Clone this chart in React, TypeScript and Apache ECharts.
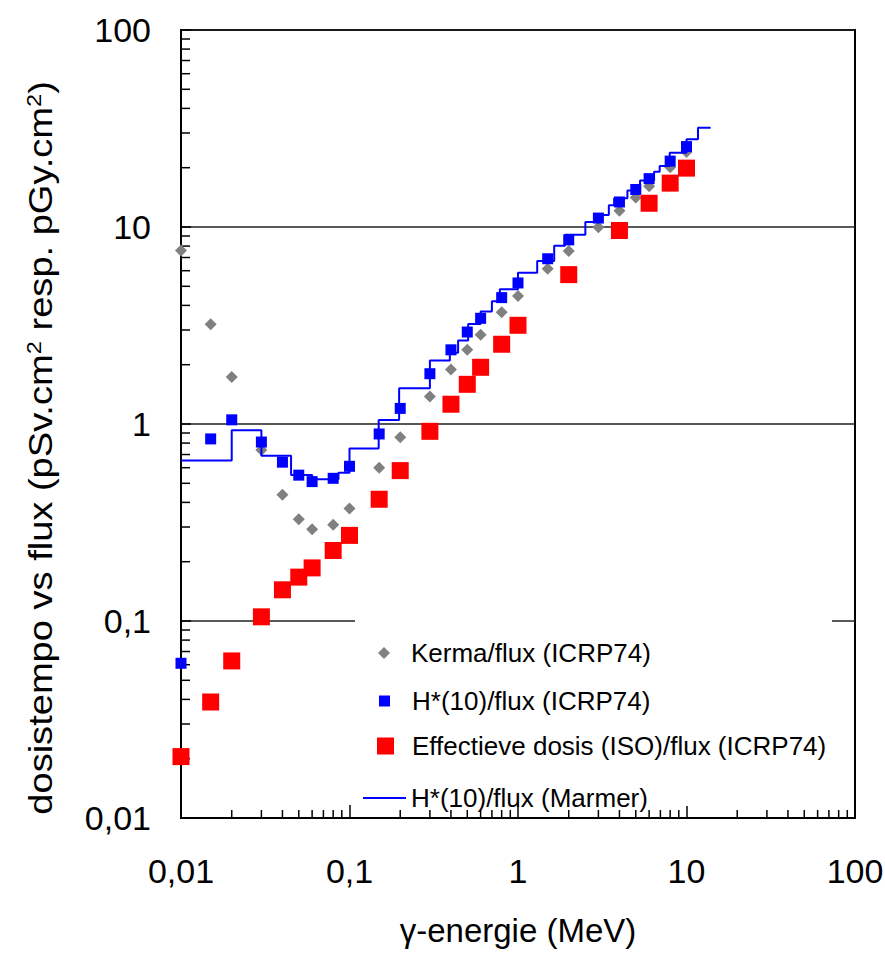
import React, { useEffect, useRef } from "react";
import * as echarts from "echarts";

// ICRP74 energies (MeV)
const energies = [0.01, 0.015, 0.02, 0.03, 0.04, 0.05, 0.06, 0.08, 0.1, 0.15, 0.2, 0.3, 0.4, 0.5, 0.6, 0.8, 1, 1.5, 2, 3, 4, 5, 6, 8, 10];
// Kerma/flux (pGy.cm2)
const kermaValues = [7.6, 3.21, 1.73, 0.739, 0.438, 0.328, 0.292, 0.308, 0.372, 0.6, 0.856, 1.38, 1.89, 2.38, 2.84, 3.69, 4.47, 6.14, 7.55, 9.96, 12.1, 14.1, 16.1, 20.1, 24.0];
// H*(10)/flux (pSv.cm2)
const hstarValues = [0.061, 0.84, 1.05, 0.81, 0.64, 0.55, 0.51, 0.53, 0.61, 0.89, 1.2, 1.8, 2.38, 2.93, 3.44, 4.38, 5.2, 6.9, 8.6, 11.1, 13.4, 15.5, 17.6, 21.6, 25.6];
// Effective dose (ISO)/flux
const effEnergies = [0.01, 0.015, 0.02, 0.03, 0.04, 0.05, 0.06, 0.08, 0.1, 0.15, 0.2, 0.3, 0.4, 0.5, 0.6, 0.8, 1, 2, 4, 6, 8, 10];
const effValues = [0.0205, 0.0388, 0.0627, 0.105, 0.144, 0.167, 0.186, 0.228, 0.272, 0.415, 0.58, 0.918, 1.26, 1.59, 1.94, 2.54, 3.17, 5.73, 9.6, 13.2, 16.7, 19.9];
// H*(10)/flux (Marmer) step line: bin edges and bin values
const marmerEdges = [0.01, 0.02, 0.03, 0.045, 0.06, 0.086, 0.1, 0.149, 0.197, 0.3, 0.394, 0.441, 0.506, 0.6, 0.7, 0.78, 1.0, 1.3, 1.64, 1.9, 2.51, 3.15, 3.46, 3.72, 4.46, 5.3, 6.42, 6.93, 7.95, 10.0, 11.7, 13.9];
const marmerValues = [0.652, 0.93, 0.69, 0.551, 0.524, 0.565, 0.75, 1.047, 1.52, 2.1, 2.3, 2.65, 3.22, 3.72, 4.2, 4.83, 5.86, 6.72, 8.04, 9.14, 10.6, 11.5, 12.9, 14.0, 15.3, 17.2, 19.1, 20.4, 23.8, 27.9, 31.9];

const decades = [0.01, 0.1, 1, 10];
const minorMultipliers = [2, 3, 4, 5, 6, 7, 8, 9];

const seriesNames = [
  "Kerma/flux (ICRP74)",
  "H*(10)/flux (ICRP74)",
  "Effectieve dosis (ISO)/flux (ICRP74)",
  "H*(10)/flux (Marmer)",
];

const FONT = "'Liberation Sans', Arial, Helvetica, sans-serif";

export default function App() {
  const ref = useRef<HTMLDivElement>(null);

  useEffect(() => {
    if (!ref.current) return;
    const chart = echarts.init(ref.current, null, { renderer: "svg" });

    const minorTicks = decades.flatMap((d) => minorMultipliers.map((m) => +(d * m).toPrecision(3)));
    const fmt = (v: number) => String(+v.toPrecision(3)).replace(".", ",");
    const marmerData = marmerEdges.map((e, i) => [e, marmerValues[Math.min(i, marmerValues.length - 1)]]);

    const legendText = (padLeft: number) => ({ fontSize: 26, fontFamily: FONT, color: "#000", padding: [0, 0, 0, padLeft] });

    const option: any = {
      animation: false,
      backgroundColor: "#fff",
      grid: {
        left: 181,
        width: 674,
        top: 30,
        height: 788,
        outerBoundsMode: "none",
        containLabel: false,
        show: true,
        borderColor: "#000",
        borderWidth: 2,
        backgroundColor: "transparent",
      },
      xAxis: {
        type: "log",
        logBase: 10,
        min: 0.01,
        max: 100,
        axisLine: { onZero: false, lineStyle: { color: "#000", width: 2 } },
        axisTick: { inside: true, length: 13, lineStyle: { color: "#000", width: 1.5 } },
        axisLabel: { fontSize: 34, fontFamily: FONT, color: "#000", margin: 36, formatter: fmt },
        splitLine: { show: false },
        name: "γ-energie (MeV)",
        nameLocation: "middle",
        nameGap: 96,
        nameTextStyle: { fontSize: 33, fontFamily: FONT, color: "#000" },
      },
      yAxis: {
        type: "log",
        logBase: 10,
        min: 0.01,
        max: 100,
        axisLine: { onZero: false, lineStyle: { color: "#000", width: 2 } },
        axisTick: { inside: true, length: 10, lineStyle: { color: "#000", width: 1.5 } },
        axisLabel: { fontSize: 34, fontFamily: FONT, color: "#000", margin: 30, formatter: fmt },
        splitLine: { show: true, lineStyle: { color: "#222", width: 1.5 } },
      },
      legend: [
        { data: [{ name: seriesNames[0], icon: "diamond" }], left: 378, top: 640, itemWidth: 12, itemHeight: 12, padding: 0, selectedMode: false, textStyle: legendText(16) },
        { data: [{ name: seriesNames[1], icon: "rect" }], left: 379, top: 688, itemWidth: 11, itemHeight: 11, padding: 0, selectedMode: false, textStyle: legendText(17) },
        { data: [{ name: seriesNames[2], icon: "rect" }], left: 377, top: 733, itemWidth: 17, itemHeight: 17, padding: 0, selectedMode: false, textStyle: legendText(13) },
        { data: [{ name: seriesNames[3], icon: "rect" }], left: 363, top: 785, itemWidth: 43, itemHeight: 2, padding: 0, selectedMode: false, textStyle: legendText(0) },
      ],
      graphic: [
        {
          type: "rect",
          z: 1,
          shape: { x: 355, y: 618, width: 477, height: 188 },
          style: { fill: "#fff" },
          silent: true,
        },
        {
          type: "text",
          x: 40,
          y: 448,
          rotation: Math.PI / 2,
          scaleX: 1.12,
          style: {
            text: "dosistempo vs flux (pSv.cm{sup|2} resp. pGy.cm{sup|2})",
            fontSize: 34,
            fontFamily: FONT,
            fill: "#000",
            align: "center",
            verticalAlign: "middle",
            rich: {
              sup: { fontSize: 21, fontFamily: FONT, fill: "#000", verticalAlign: "top" },
            },
          },
        },
      ],
      series: [
        {
          name: "minorX",
          type: "custom",
          silent: true,
          data: minorTicks.map((v) => [v, 0.01]),
          renderItem: (params: any, api: any) => {
            const p = api.coord([api.value(0), api.value(1)]);
            return { type: "line", shape: { x1: p[0], y1: p[1], x2: p[0], y2: p[1] - 8 }, style: { stroke: "#000", lineWidth: 1.5 } };
          },
        },
        {
          name: "minorY",
          type: "custom",
          silent: true,
          data: minorTicks.map((v) => [0.01, v]),
          renderItem: (params: any, api: any) => {
            const p = api.coord([api.value(0), api.value(1)]);
            return { type: "line", shape: { x1: p[0], y1: p[1], x2: p[0] + 9, y2: p[1] }, style: { stroke: "#000", lineWidth: 1.5 } };
          },
        },
        {
          name: seriesNames[0],
          type: "scatter",
          symbol: "diamond",
          symbolSize: 12,
          itemStyle: { color: "#808080", opacity: 1 },
          data: energies.map((e, i) => [e, kermaValues[i]]),
        },
        {
          name: seriesNames[1],
          type: "scatter",
          symbol: "rect",
          symbolSize: 11,
          itemStyle: { color: "#0000FF", opacity: 1 },
          data: energies.map((e, i) => [e, hstarValues[i]]),
        },
        {
          name: seriesNames[2],
          type: "scatter",
          symbol: "rect",
          symbolSize: 17,
          itemStyle: { color: "#FF0000", opacity: 1 },
          data: effEnergies.map((e, i) => [e, effValues[i]]),
        },
        {
          name: seriesNames[3],
          type: "line",
          step: "end",
          showSymbol: false,
          symbol: "none",
          lineStyle: { color: "#0000FF", width: 2 },
          itemStyle: { color: "#0000FF" },
          data: marmerData,
        },
      ],
    };

    chart.setOption(option);
    return () => chart.dispose();
  }, []);

  return <div ref={ref} style={{ position: "fixed", left: 0, top: 0, width: 885, height: 953 }} />;
}
